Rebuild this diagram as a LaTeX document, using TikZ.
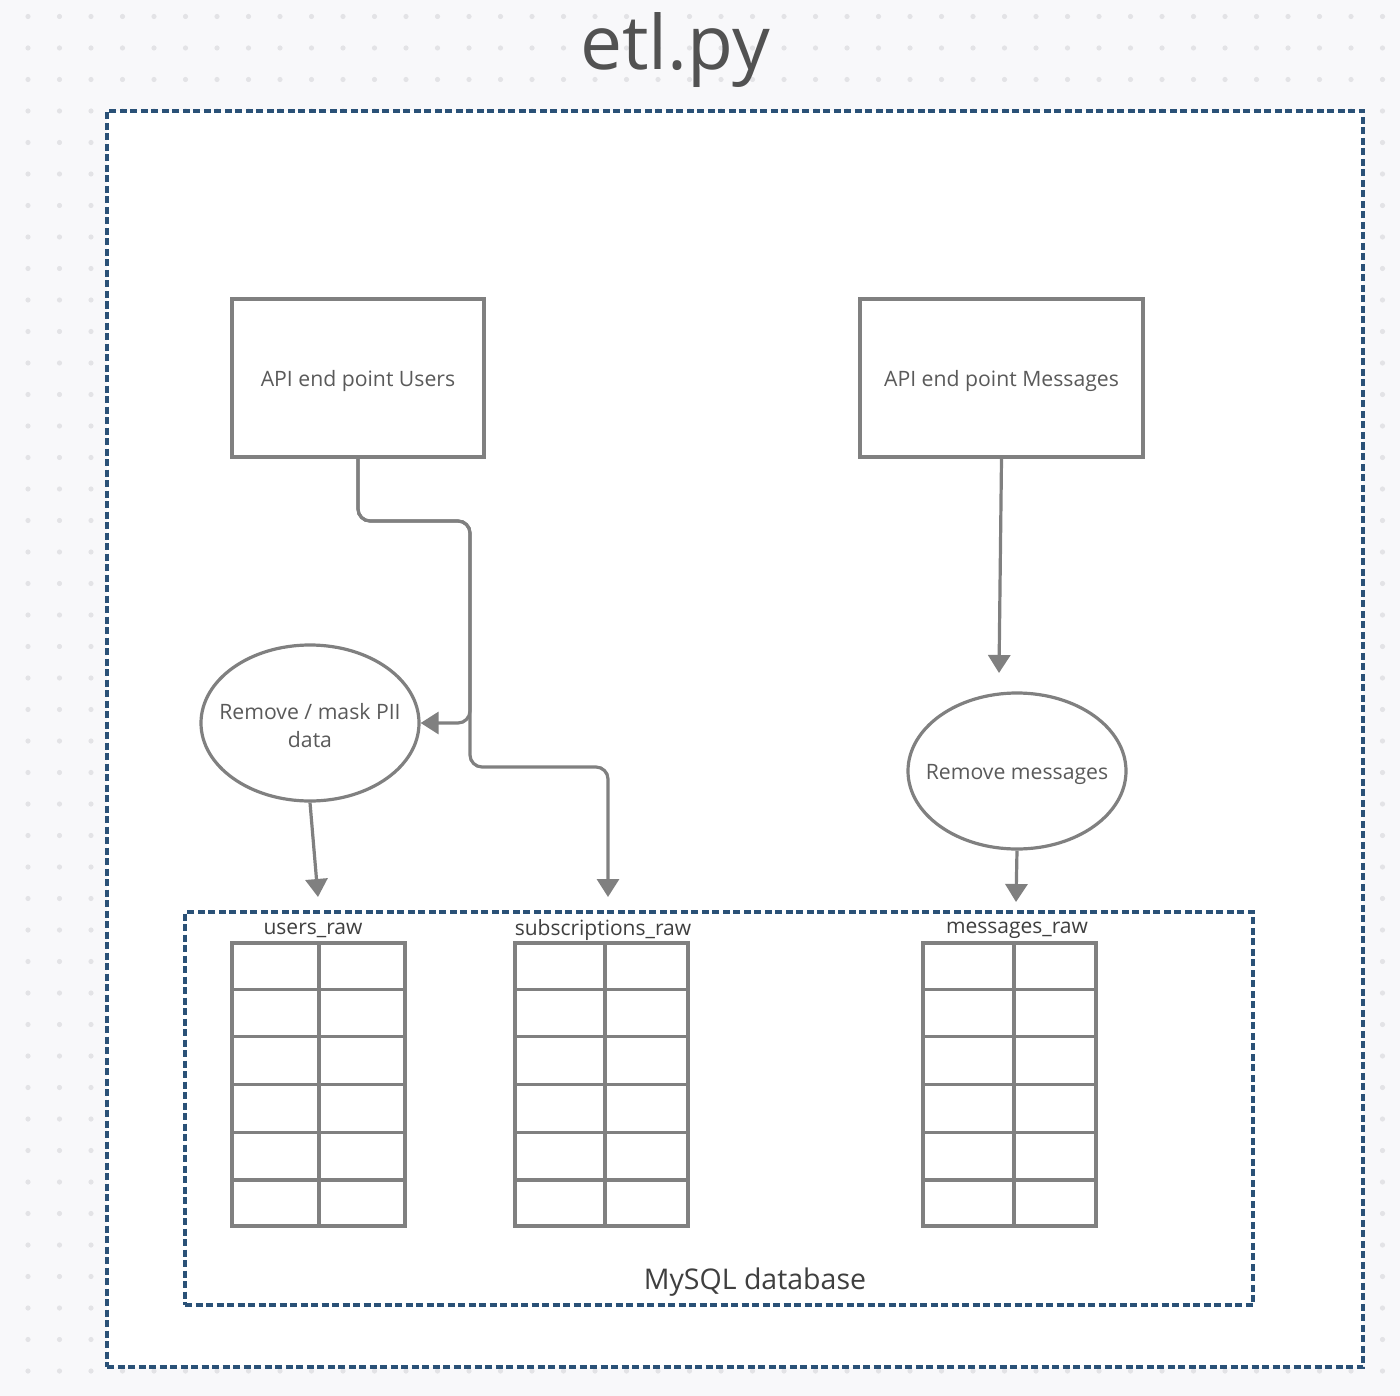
\documentclass[tikz,border=0pt]{standalone}
\usepackage{fontspec}
\setmainfont{Open Sans}
\usetikzlibrary{arrows.meta,shapes.geometric,calc}
\definecolor{bgcol}{HTML}{F8F8FA}
\definecolor{dotcol}{HTML}{E3E3E6}
\definecolor{dashcol}{HTML}{2A5177}
\definecolor{linecol}{HTML}{808080}
\definecolor{txtcol}{HTML}{5A5A5A}
\definecolor{lblcol}{HTML}{3F3F3F}
\tikzset{
  apibox/.style={draw=linecol, line width=3.2pt, fill=white, rectangle, inner sep=0pt},
  procell/.style={draw=linecol, line width=3.2pt, fill=white, ellipse, inner sep=0pt,
    minimum width=218pt, minimum height=156pt},
  proctxt/.style={align=center, inner sep=0pt, yshift=-3pt, text=txtcol, font=\fontsize{21.2}{28}\selectfont},
  dbtab/.style={draw=linecol, line width=3.2pt, fill=white, rectangle, inner sep=0pt,
    minimum width=173pt, minimum height=283pt},
  gridline/.style={draw=linecol, line width=3.2pt},
  tablbl/.style={text=lblcol, font=\fontsize{21}{24}\selectfont, inner sep=0pt},
  dashbox/.style={draw=dashcol, line width=3.2pt, dash pattern=on 7pt off 3.5pt},
  conn/.style={draw=linecol, line width=3.2pt, rounded corners=12pt,
    -{Triangle[width=22pt,length=18pt]}},
}
\begin{document}
\begin{tikzpicture}[x=1pt,y=-1pt]
\useasboundingbox (0,0) rectangle (1400,1396);
% background with dot grid
\fill[bgcol] (0,0) rectangle (1400,1396);
\foreach \i in {0,...,43}{
  \foreach \j in {0,...,44}{
    \fill[dotcol] ({28+31.5*\i},{16.5+31.5*\j}) circle (2.6pt);
  }
}
% title
\node[anchor=base, text=lblcol!90, font=\fontsize{75}{80}\selectfont, inner sep=0pt] (title) at (675,70) {etl.py};
% outer dashed box
\node[dashbox, fill=white, rectangle, minimum width=1256pt, minimum height=1256pt, inner sep=0pt] (outer) at (735,739) {};
% inner dashed box (MySQL database)
\node[dashbox, rectangle, minimum width=1068pt, minimum height=393pt, inner sep=0pt] (db) at (719,1108.5) {};
\node[text=lblcol, font=\fontsize{28.5}{32}\selectfont, inner sep=0pt] (dblbl) at (755,1282) {MySQL database};

% API boxes
\node[apibox, minimum width=252pt, minimum height=158pt, label={[proctxt]center:API end point Users}] (users) at (358,378) {};
\node[apibox, minimum width=283pt, minimum height=158pt, label={[proctxt]center:API end point Messages}] (msgapi) at (1001.5,378) {};

% process ellipses
\node[procell, label={[proctxt]center:{Remove / mask PII\\data}}] (pii) at (310,723) {};
\node[procell, label={[proctxt]center:Remove messages}] (rmmsg) at (1017,771) {};

% tables
\node[dbtab] (tusers) at (318.5,1084.5) {};
\node[dbtab] (tsubs) at (601.5,1084.5) {};
\node[dbtab] (tmsgs) at (1009.5,1084.5) {};
\foreach \t/\sx in {tusers/319, tsubs/605, tmsgs/1014}{
  \draw[gridline] (\t.north -| \sx,0) -- (\t.south -| \sx,0);
  \foreach \k in {1,...,5}{
    \draw[gridline] ($(\t.north west)!\k/6!(\t.south west)$) -- ($(\t.north east)!\k/6!(\t.south east)$);
  }
}
\node[tablbl] (lusers) at (313,930) {users\_raw};
\node[tablbl] (lsubs) at (603,930) {subscriptions\_raw};
\node[tablbl] (lmsgs) at (1017,930) {messages\_raw};

% arrow end points
\coordinate (aUsers) at (318,897);
\coordinate (aSubs) at (608,897);
\coordinate (aMsgIn) at (999,673);
\coordinate (aMsgs) at (1016,902);

% connectors
\draw[conn] (users.south) |- (470,521) |- (pii.east);
\draw[conn] (users.south) |- (470,521) |- (608,767) -- (aSubs);
\draw[conn] (pii.south) -- (aUsers);
\draw[conn] (msgapi.south) -- (aMsgIn);
\draw[conn] (rmmsg.south) -- (aMsgs);
\end{tikzpicture}
\end{document}
